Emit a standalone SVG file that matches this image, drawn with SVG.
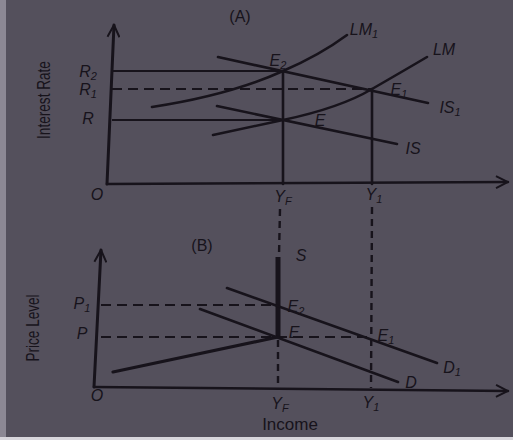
<svg xmlns="http://www.w3.org/2000/svg" width="513" height="440" viewBox="0 0 513 440">
<style>
.ln{stroke:#17131b;fill:none;stroke-width:2.6;stroke-linecap:round}
.thin{stroke:#17131b;fill:none;stroke-width:2}
.dash{stroke:#17131b;fill:none;stroke-width:2;stroke-dasharray:10 6}
.dashv{stroke:#17131b;fill:none;stroke-width:2.4;stroke-dasharray:7 5}
.lab{font-family:"Liberation Sans",Arial,sans-serif;font-style:italic;font-size:16px;fill:#17131b}
.ax{font-family:"Liberation Sans",Arial,sans-serif;font-size:16px;fill:#17131b}
</style>
<defs>
<marker id="arr" viewBox="0 0 14 14" refX="13" refY="7" markerWidth="14" markerHeight="14" markerUnits="userSpaceOnUse" orient="auto">
<path d="M1,1 L13,7 L1,13" fill="none" stroke="#17131b" stroke-width="2"/>
</marker>
</defs>
<rect width="513" height="440" fill="#54505c"/>
<rect x="0" y="0" width="6" height="440" fill="#8c8894"/>
<rect x="0" y="437" width="513" height="3" fill="#d8d6dc"/>

<g id="panelA">
<text class="ax" x="240" y="22" text-anchor="middle">(A)</text>
<text class="ax" transform="translate(50,100) rotate(-90) scale(0.85,1.1)" text-anchor="middle">Interest Rate</text>
<g id="axesA">
<line class="ln" x1="107" y1="184" x2="114" y2="25" marker-end="url(#arr)" style="stroke-width:3"/>
<line class="ln" x1="107" y1="184" x2="508" y2="182" marker-end="url(#arr)"/>
<text class="lab" x="97" y="200" text-anchor="middle">O</text>
</g>
<g id="connectorsA">
<line class="thin" x1="111" y1="71" x2="283" y2="71"/>
<line class="dash" x1="112" y1="89" x2="372" y2="89"/>
<line class="thin" x1="112" y1="120" x2="283" y2="120"/>
<line class="ln" x1="283" y1="71" x2="283" y2="184"/>
<line class="ln" x1="372" y1="89" x2="372" y2="184"/>
<path class="ln" d="M152,107 Q230,95 283,71 Q320,55 347,35"/>
<path class="ln" d="M213,135 Q250,127 283,120 Q340,108 372,89 Q405,70 427,57"/>
<line class="ln" x1="218" y1="57" x2="428" y2="103"/>
<line class="ln" x1="217" y1="106" x2="397" y2="144"/>
</g>
<g id="labelsA">
<text class="lab" x="88" y="77" text-anchor="middle">R<tspan font-size="11" dy="3">2</tspan></text>
<text class="lab" x="88" y="95" text-anchor="middle">R<tspan font-size="11" dy="3">1</tspan></text>
<text class="lab" x="88" y="124" text-anchor="middle">R</text>
<text class="lab" x="278" y="66" text-anchor="middle">E<tspan font-size="11" dy="3">2</tspan></text>
<text class="lab" x="399" y="95" text-anchor="middle">E<tspan font-size="11" dy="3">1</tspan></text>
<text class="lab" x="320" y="126" text-anchor="middle">E</text>
<text class="lab" x="364" y="35" text-anchor="middle">LM<tspan font-size="11" dy="3">1</tspan></text>
<text class="lab" x="444" y="55" text-anchor="middle">LM</text>
<text class="lab" x="450" y="113" text-anchor="middle">IS<tspan font-size="11" dy="3">1</tspan></text>
<text class="lab" x="413" y="154" text-anchor="middle">IS</text>
<text class="lab" x="283" y="202" text-anchor="middle">Y<tspan font-size="11" dy="3">F</tspan></text>
<text class="lab" x="374" y="200" text-anchor="middle">Y<tspan font-size="11" dy="3">1</tspan></text>
</g>
</g>

<g id="links">
<line class="dashv" x1="280" y1="209" x2="279" y2="256"/>
<line class="dashv" x1="372" y1="207" x2="371" y2="388"/>
</g>

<g id="panelB">
<text class="ax" x="202" y="251" text-anchor="middle">(B)</text>
<text class="ax" transform="translate(39,328) rotate(-90) scale(0.85,1.1)" text-anchor="middle">Price Level</text>
<g id="axesB">
<line class="ln" x1="94" y1="387" x2="101" y2="250" marker-end="url(#arr)" style="stroke-width:3"/>
<line class="ln" x1="94" y1="387" x2="508" y2="391" marker-end="url(#arr)"/>
<text class="lab" x="97" y="401" text-anchor="middle">O</text>
</g>
<g id="connectorsB">
<line class="dash" x1="101" y1="305" x2="278" y2="305"/>
<line class="dash" x1="101" y1="337" x2="371" y2="337"/>
<line class="dashv" x1="278" y1="340" x2="278" y2="388"/>
<line x1="278" y1="257" x2="278" y2="338" stroke="#17131b" stroke-width="5"/>
<line class="ln" x1="113" y1="372" x2="278" y2="337" style="stroke-width:3.2"/>
<line class="ln" x1="227" y1="288" x2="437" y2="363"/>
<line class="ln" x1="200" y1="309" x2="398" y2="382"/>
</g>
<g id="labelsB">
<text class="lab" x="301" y="261" text-anchor="middle">S</text>
<text class="lab" x="82" y="309" text-anchor="middle">P<tspan font-size="11" dy="3">1</tspan></text>
<text class="lab" x="82" y="339" text-anchor="middle">P</text>
<text class="lab" x="296" y="312" text-anchor="middle">E<tspan font-size="11" dy="3">2</tspan></text>
<text class="lab" x="294" y="338" text-anchor="middle">E</text>
<text class="lab" x="386" y="341" text-anchor="middle">E<tspan font-size="11" dy="3">1</tspan></text>
<text class="lab" x="452" y="373" text-anchor="middle">D<tspan font-size="11" dy="3">1</tspan></text>
<text class="lab" x="411" y="388" text-anchor="middle">D</text>
<text class="lab" x="280" y="409" text-anchor="middle">Y<tspan font-size="11" dy="3">F</tspan></text>
<text class="lab" x="371" y="408" text-anchor="middle">Y<tspan font-size="11" dy="3">1</tspan></text>
<text class="ax" x="290" y="430" text-anchor="middle" style="font-size:17px">Income</text>
</g>
</g>
</svg>
